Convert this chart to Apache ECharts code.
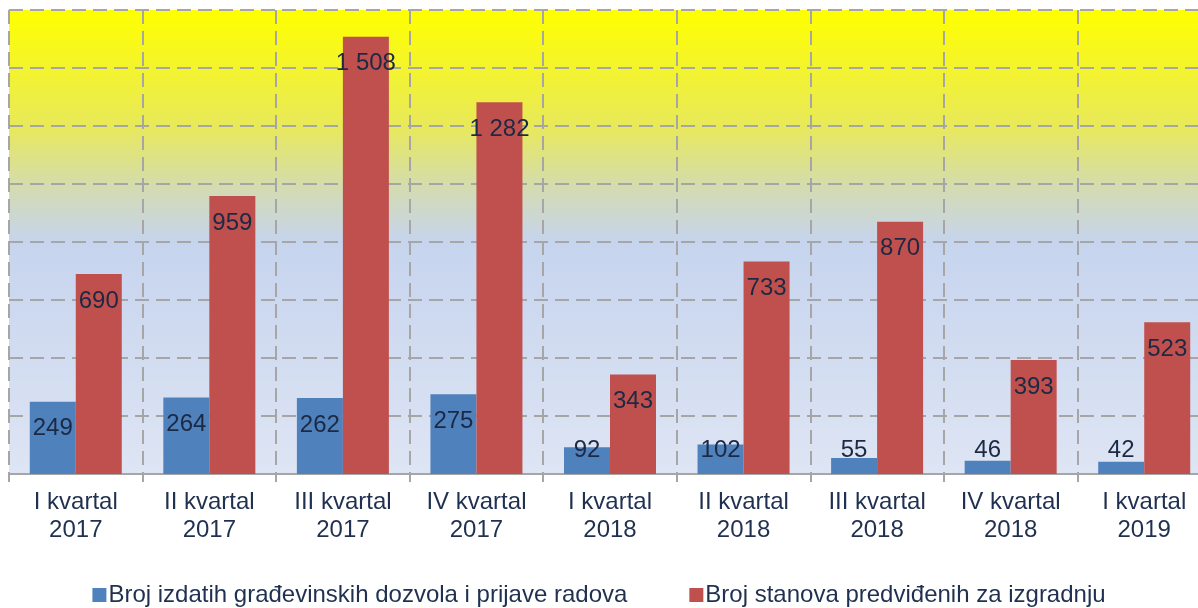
<!DOCTYPE html>
<html>
<head>
<meta charset="utf-8">
<script src="https://cdn.jsdelivr.net/npm/echarts@6/dist/echarts.min.js"></script>
<style>
html,body{margin:0;padding:0;background:#fff;}
#c{width:1198px;height:608px;}
</style>
</head>
<body>
<div id="c"></div>
<script>
const categories = ['I kvartal\n2017','II kvartal\n2017','III kvartal\n2017','IV kvartal\n2017','I kvartal\n2018','II kvartal\n2018','III kvartal\n2018','IV kvartal\n2018','I kvartal\n2019'];
const seriesNames = ['Broj izdatih građevinskih dozvola i prijave radova','Broj stanova predviđenih za izgradnju'];
const permits = [249,264,262,275,92,102,55,46,42];
const dwellings = [690,959,1508,1282,343,733,870,393,523];
const yMax = 1600;
const yInterval = 200;

const textColor = '#1C2944';
const labelThreshold = 180;
const fontFam = 'Liberation Sans, Arial, sans-serif';

function fmt(v){ return String(v).replace(/\B(?=(\d{3})+(?!\d))/g,' '); }
function items(arr){
  return arr.map(v => ({
    value: v,
    label: v > labelThreshold
      ? {position:'insideTop', distance:15}
      : {position:'insideBottom', distance:12}
  }));
}

const chart = echarts.init(document.getElementById('c'));
const labelStyle = {show:true, color:textColor, fontSize:24, fontFamily:fontFam, formatter: p => fmt(p.value)};
const dash = [14,7];
chart.setOption({
  animation:false,
  textStyle:{fontFamily:fontFam},
  grid:{left:9, top:10, width:1202, bottom:134, containLabel:false, outerBoundsMode:'none',
    show:true, borderWidth:0,
    backgroundColor:{type:'linear',x:0,y:0,x2:0,y2:1,colorStops:[
      {offset:0,color:'#FFFF00'},
      {offset:0.25,color:'#E8E95A'},
      {offset:0.4,color:'#D1DABA'},
      {offset:0.5,color:'#C6D4EE'},
      {offset:1,color:'#DEE5F4'}
    ]}
  },
  legend:{
    top:578, left:'center', itemWidth:14, itemHeight:14, itemGap:62,
    icon:'rect',
    textStyle:{color:'#1F3050', fontSize:24, fontFamily:fontFam, padding:[0,0,0,-3]},
    data:seriesNames
  },
  xAxis:{
    type:'category', data:categories,
    axisLine:{lineStyle:{color:'#A6A6A6', width:2}},
    axisTick:{show:true, length:8, lineStyle:{color:'#A6A6A6', width:2}},
    axisLabel:{color:'#1F3050', fontSize:24, lineHeight:28, margin:14, interval:0},
    splitLine:{show:true, lineStyle:{color:'#A6A6A6', width:2, type:dash}}
  },
  yAxis:{
    type:'value', min:0, max:yMax, interval:yInterval,
    axisLabel:{show:false}, axisLine:{show:false}, axisTick:{show:false},
    splitLine:{show:true, lineStyle:{color:'#A6A6A6', width:2, type:dash}}
  },
  series:[
    {name:seriesNames[0], type:'bar', data:items(permits), barWidth:46, barGap:'0%',
     itemStyle:{color:'#4F81BD'}, label:labelStyle},
    {name:seriesNames[1], type:'bar', data:items(dwellings), barWidth:46, barGap:'0%',
     itemStyle:{color:'#C0504D'}, label:labelStyle}
  ]
});
</script>
</body>
</html>
